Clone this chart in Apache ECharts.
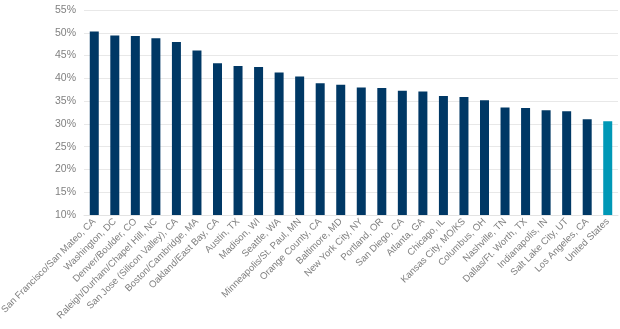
<!DOCTYPE html>
<html>
<head>
<meta charset="utf-8">
<script src="https://cdn.jsdelivr.net/npm/echarts@6/dist/echarts.min.js"></script>
<style>
  html, body { margin: 0; padding: 0; background: #ffffff; }
  #chart { width: 620px; height: 329px; }
</style>
</head>
<body>
<div id="chart"></div>
<script>
// Metro areas, ordered by share (%)
const metros = [
  'San Francisco/San Mateo, CA', 'Washington, DC', 'Denver/Boulder, CO',
  'Raleigh/Durham/Chapel Hill, NC', 'San Jose (Silicon Valley), CA',
  'Boston/Cambridge, MA', 'Oakland/East Bay, CA', 'Austin, TX', 'Madison, WI',
  'Seattle, WA', 'Minneapolis/St. Paul, MN', 'Orange County, CA',
  'Baltimore, MD', 'New York City, NY', 'Portland, OR', 'San Diego, CA',
  'Atlanta, GA', 'Chicago, IL', 'Kansas City, MO/KS', 'Columbus, OH',
  'Nashville, TN', 'Dallas/Ft. Worth, TX', 'Indianapolis, IN',
  'Salt Lake City, UT', 'Los Angeles, CA', 'United States'
];
const shares = [
  50.3, 49.4, 49.3, 48.8, 48.0, 46.1, 43.3, 42.7, 42.5, 41.3, 40.4, 38.9,
  38.6, 38.0, 37.9, 37.3, 37.1, 36.1, 35.9, 35.2, 33.6, 33.5, 33.0, 32.8,
  31.0, 30.6
];
const nationalLabel = 'United States';
const yMin = 10, yMax = 55, yStep = 5;

const metroColor = '#003865';
const nationColor = '#0098b6';

const chart = echarts.init(document.getElementById('chart'), null, { renderer: 'canvas' });
chart.setOption({
  animation: false,
  backgroundColor: '#ffffff',
  grid: { left: 84, right: 2, top: 10, bottom: 114, outerBoundsMode: 'none' },
  xAxis: {
    type: 'category',
    data: metros,
    axisTick: { show: false },
    axisLine: { lineStyle: { color: '#e3e3e3', width: 1 } },
    axisLabel: {
      interval: 0,
      rotate: 45,
      margin: 5,
      color: '#808080',
      fontSize: 9.6,
      fontFamily: 'Liberation Sans, Arial, sans-serif'
    }
  },
  yAxis: {
    type: 'value',
    min: yMin,
    max: yMax,
    interval: yStep,
    axisLine: { show: false },
    axisTick: { show: false },
    splitLine: { lineStyle: { color: '#e8e8e8', width: 1 } },
    axisLabel: {
      formatter: '{value}%',
      margin: 8,
      color: '#808080',
      fontSize: 10.5,
      fontFamily: 'Liberation Sans, Arial, sans-serif'
    }
  },
  series: [{
    type: 'bar',
    barWidth: 9,
    data: shares.map((v, i) => ({
      value: v,
      itemStyle: { color: metros[i] === nationalLabel ? nationColor : metroColor }
    }))
  }]
});
</script>
</body>
</html>
